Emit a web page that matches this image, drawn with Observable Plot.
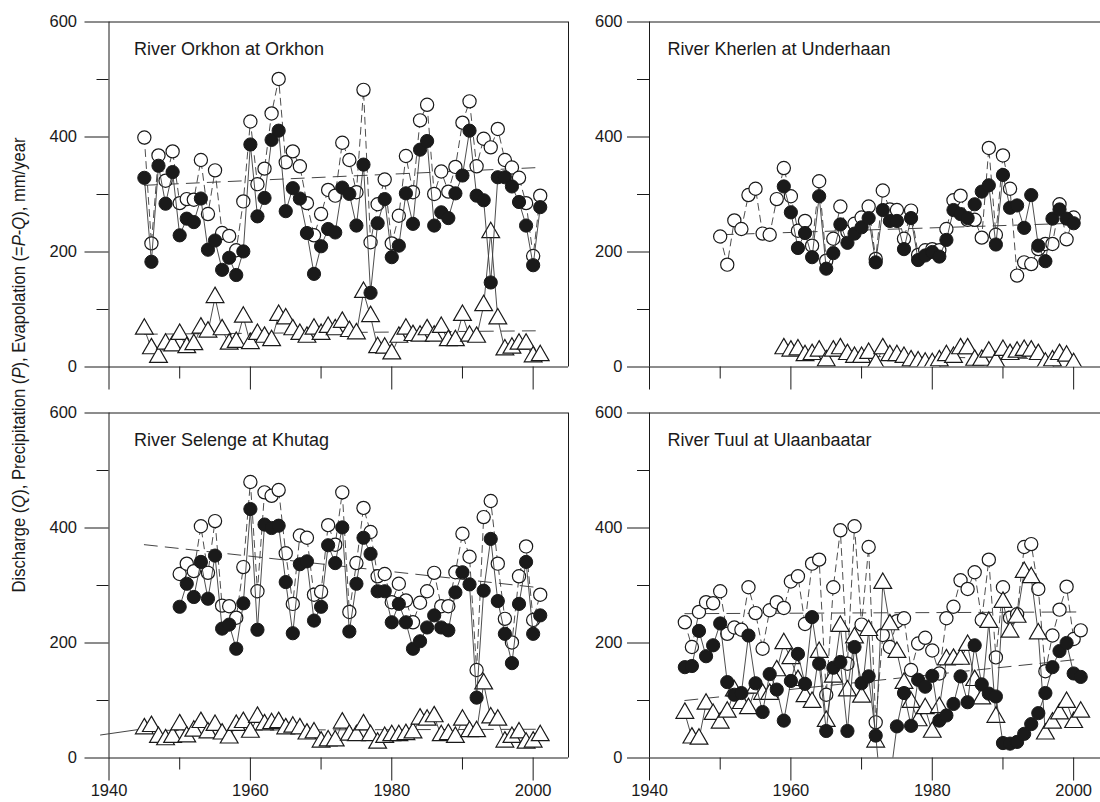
<!DOCTYPE html>
<html><head><meta charset="utf-8">
<script src="https://cdn.jsdelivr.net/npm/d3@7"></script>
<script src="https://cdn.jsdelivr.net/npm/@observablehq/plot@0.6"></script>
<style>
body{margin:0;background:#fff;}
#wrap{position:relative;width:1100px;height:802px;overflow:hidden;background:#fff;}
#wrap svg{position:absolute;}
</style></head><body><div id="wrap"></div>
<script>
// ---------- DATA ----------
const yTicksMajor = [0, 200, 400, 600];
const yTicksMinor = [100, 300, 500];
const xTicksMajor = [1940, 1960, 1980, 2000];
const xTicksMinor = [1950, 1970, 1990];

// River Orkhon at Orkhon
const orkhonYears = d3.range(1945, 2002);
const orkhonP = [399,215,368,324,375,285,292,291,360,266,342,233,228,203,288,427,318,345,441,501,356,375,349,285,229,266,308,298,390,360,304,482,217,283,326,215,263,367,304,429,456,301,340,305,348,425,462,349,397,382,414,360,347,329,285,193,298];
const orkhonE = [329,183,350,284,339,229,258,252,293,204,220,169,190,160,201,387,262,294,395,411,271,311,293,233,162,210,240,234,312,301,246,352,129,250,292,191,211,302,249,378,393,246,269,259,302,333,411,298,290,147,330,330,314,287,246,177,278];
const orkhonQ = [66,32,17,40,37,57,34,39,68,61,121,65,40,43,87,41,57,52,46,90,84,65,57,52,66,57,69,65,78,62,58,130,88,34,33,23,52,66,55,54,65,54,69,46,46,90,54,52,107,234,84,30,33,40,40,18,20];
const orkhonTrendYears = [1945, 2001];
const orkhonTrendP = [316, 347];
const orkhonTrendQ = [57, 63];

// River Kherlen at Underhaan
const kherlenPYears = d3.range(1950, 2001);
const kherlenP = [227,178,255,240,299,310,232,230,292,346,297,237,254,211,323,185,223,279,235,249,260,279,188,307,274,273,223,272,195,203,205,203,240,290,298,256,256,225,381,230,368,310,159,182,179,205,214,214,283,222,260];
const kherlenEQYears = d3.range(1959, 2001);
const kherlenE = [314,269,207,233,191,297,171,198,248,216,232,243,259,182,273,254,254,205,259,186,194,200,192,221,273,266,259,283,305,316,213,334,277,281,242,299,211,184,258,274,258,250];
const kherlenQ = [32,28,30,20,22,28,11,28,32,22,17,17,24,6,32,20,20,17,11,9,7,6,11,20,17,32,32,12,12,26,9,29,22,26,29,28,22,7,11,22,19,6];
const kherlenTrendYears = [1950, 2000];
const kherlenTrendP = [230, 250];
const kherlenTrendQYears = [1959, 2000];
const kherlenTrendQ = [20, 14];

// River Selenge at Khutag
const selengeQYears = d3.range(1945, 2002);
const selengeQ = [51,55,36,32,36,58,37,47,62,44,57,42,35,57,62,45,71,58,60,62,51,54,51,42,44,28,30,30,61,40,39,58,39,26,36,39,39,41,44,68,66,72,39,41,36,66,46,46,129,70,66,28,36,44,26,28,39];
const selengePEYears = d3.range(1950, 2002);
const selengeP = [320,338,325,403,322,412,265,264,244,332,480,290,462,456,466,356,268,387,383,284,289,405,371,462,254,339,435,393,316,320,271,303,274,236,270,290,322,264,264,323,390,350,153,419,447,338,242,201,316,368,240,284];
const selengeE = [263,303,280,341,277,352,225,232,190,269,433,223,406,400,404,306,217,337,342,239,263,370,339,401,220,303,383,355,290,290,236,268,236,190,203,227,248,227,222,288,323,302,105,291,381,273,216,165,268,341,216,248];
const selengeTrendYears = [1945, 2001];
const selengeTrendP = [371, 296];
const selengeTrendQ = [48, 50];
const selengeLeadYears = [1938.8, 1945];
const selengeLeadQ = [40, 51];

// River Tuul at Ulaanbaatar
const tuulYears = d3.range(1945, 2002);
const tuulP = [236,193,254,271,269,290,216,227,223,297,252,190,257,271,261,307,316,233,338,345,110,297,396,164,403,232,367,62,214,193,238,243,153,199,209,187,147,243,263,309,294,323,240,345,175,297,244,250,367,372,294,151,213,258,298,207,222];
const tuulE = [158,160,221,177,196,234,132,110,113,213,130,80,146,119,65,134,181,129,245,164,47,157,167,47,193,130,142,39,-90,-40,55,113,56,136,124,143,65,74,94,142,97,196,128,112,107,26,25,28,42,59,78,113,158,186,200,147,141];
const tuulQ = [78,35,33,94,76,61,80,117,95,86,122,111,111,152,199,173,135,107,97,184,64,141,229,117,209,106,222,28,304,232,184,130,97,65,86,45,88,171,172,172,196,135,103,236,71,271,219,245,323,314,216,42,61,77,97,62,80];
const tuulTrendYears = [1945, 2001];
const tuulTrendP = [251, 254];
const tuulTrendQ = [100, 172];

// ---------- DRAWING ----------
const FONT = "'Liberation Sans', Arial, Helvetica, sans-serif";
const INK = "#1a1a1a";
const LINE = "#3a3a3a";
const rows = (xs, vs) => xs.map((x, i) => ({year: x, v: vs[i]}));

function panel(o) {
  const P = rows(o.pYears, o.p), E = rows(o.eYears, o.e), Q = rows(o.qYears, o.q);
  const marks = [];
  marks.push(Plot.ruleY([0, 600], {stroke: INK, strokeWidth: 1}));
  marks.push(Plot.ruleX([1940], {y1: 0, y2: 600, stroke: INK, strokeWidth: 1}));
  if (o.rightBorder) marks.push(Plot.ruleX([o.xMax], {y1: 0, y2: 600, stroke: INK, strokeWidth: 1}));
  marks.push(Plot.axisY({ticks: yTicksMajor, tickSize: o.ytick, tickPadding: o.ypad, tickFormat: d => String(d), label: null, stroke: INK, fill: INK}));
  marks.push(Plot.axisY({ticks: yTicksMinor, tickSize: 12, tickFormat: () => "", label: null, stroke: INK}));
  marks.push(Plot.axisX({ticks: xTicksMajor, tickSize: 23, tickPadding: 3, tickFormat: o.xLabels ? (d => String(d)) : (() => ""), label: null, stroke: INK, fill: INK}));
  marks.push(Plot.axisX({ticks: xTicksMinor, tickSize: 12, tickFormat: () => "", label: null, stroke: INK}));
  for (const t of o.trends) {
    marks.push(Plot.line(rows(t.x, t.v), {x: "year", y: "v", stroke: "#444", strokeWidth: 1, strokeDasharray: t.dash === undefined ? "13,8" : t.dash, clip: t.clip !== false}));
  }
  marks.push(Plot.line(P, {x: "year", y: "v", stroke: LINE, strokeWidth: 0.9, strokeDasharray: "7,5", clip: true}));
  marks.push(Plot.dot(P, {x: "year", y: "v", r: 6.6, fill: "white", stroke: INK, strokeWidth: 1.2, clip: true}));
  marks.push(Plot.line(Q, {x: "year", y: "v", stroke: LINE, strokeWidth: 0.9, clip: true}));
  marks.push(Plot.dot(Q, {x: "year", y: "v", symbol: "triangle", r: 6.6, fill: "white", stroke: INK, strokeWidth: 1.2, clip: true}));
  marks.push(Plot.line(E, {x: "year", y: "v", stroke: LINE, strokeWidth: 0.9, clip: true}));
  marks.push(Plot.dot(E, {x: "year", y: "v", r: 6.6, fill: INK, stroke: INK, strokeWidth: 1, clip: true}));
  marks.push(Plot.text([o.title], {frameAnchor: "top-left", dx: o.titleDx, dy: 33, textAnchor: "start", lineAnchor: "bottom", fontSize: 18, fill: INK}));

  const svg = Plot.plot({
    width: o.width, height: o.height,
    marginLeft: o.mL, marginRight: o.mR, marginTop: o.mT, marginBottom: o.mB,
    x: {domain: [1940, o.xMax], axis: null},
    y: {domain: [0, 600], axis: null},
    style: {fontFamily: FONT, fontSize: "16.5px", color: INK, background: "transparent", overflow: "visible"},
    marks
  });
  svg.style.left = o.left + "px";
  svg.style.top = o.top + "px";
  document.getElementById("wrap").appendChild(svg);
}

const LEFT = {left: 0, width: 570, mL: 108.5, mR: 2, xMax: 2005, rightBorder: true, ytick: 24, ypad: 8, titleDx: 25};
const RIGHT = {left: 560, width: 540, mL: 89, mR: 0, xMax: 1940 + 451 / (459.5 / 65), rightBorder: false, ytick: 22, ypad: 5, titleDx: 18};
const TOP = {top: 0, height: 400, mT: 21.5, mB: 33.5, xLabels: false};
const BOTTOM = {top: 400, height: 402, mT: 12.5, mB: 44.5, xLabels: true};

panel({...LEFT, ...TOP, title: "River Orkhon at Orkhon",
  pYears: orkhonYears, p: orkhonP, eYears: orkhonYears, e: orkhonE, qYears: orkhonYears, q: orkhonQ,
  trends: [{x: orkhonTrendYears, v: orkhonTrendP}, {x: orkhonTrendYears, v: orkhonTrendQ}]});
panel({...RIGHT, ...TOP, title: "River Kherlen at Underhaan",
  pYears: kherlenPYears, p: kherlenP, eYears: kherlenEQYears, e: kherlenE, qYears: kherlenEQYears, q: kherlenQ,
  trends: [{x: kherlenTrendYears, v: kherlenTrendP}, {x: kherlenTrendQYears, v: kherlenTrendQ}]});
panel({...LEFT, ...BOTTOM, title: "River Selenge at Khutag",
  pYears: selengePEYears, p: selengeP, eYears: selengePEYears, e: selengeE, qYears: selengeQYears, q: selengeQ,
  trends: [{x: selengeTrendYears, v: selengeTrendP}, {x: selengeTrendYears, v: selengeTrendQ}, {x: selengeLeadYears, v: selengeLeadQ, dash: null, clip: false}]});
panel({...RIGHT, ...BOTTOM, title: "River Tuul at Ulaanbaatar",
  pYears: tuulYears, p: tuulP, eYears: tuulYears, e: tuulE, qYears: tuulYears, q: tuulQ,
  trends: [{x: tuulTrendYears, v: tuulTrendP}, {x: tuulTrendYears, v: tuulTrendQ}]});

// y-axis title (condensed, as in the reference)
const ns = "http://www.w3.org/2000/svg";
const ysvg = document.createElementNS(ns, "svg");
ysvg.setAttribute("width", 40); ysvg.setAttribute("height", 802);
ysvg.style.left = "0px"; ysvg.style.top = "0px";
const t = document.createElementNS(ns, "text");
t.setAttribute("transform", "translate(25,365) rotate(-90)");
t.setAttribute("text-anchor", "middle");
t.setAttribute("font-family", FONT);
t.setAttribute("font-size", "17.5");
t.setAttribute("textLength", "455");
t.setAttribute("lengthAdjust", "spacingAndGlyphs");
t.setAttribute("fill", INK);
const parts = [["Discharge (", 0], ["Q", 1], ["), Precipitation (", 0], ["P", 1], ["), Evapolation (=", 0], ["P", 1], ["-", 0], ["Q", 1], ["), mm/year", 0]];
for (const [s, it] of parts) {
  const ts = document.createElementNS(ns, "tspan");
  ts.textContent = s;
  if (it) ts.setAttribute("font-style", "italic");
  t.appendChild(ts);
}
ysvg.appendChild(t);
document.getElementById("wrap").appendChild(ysvg);
</script>
</body></html>
